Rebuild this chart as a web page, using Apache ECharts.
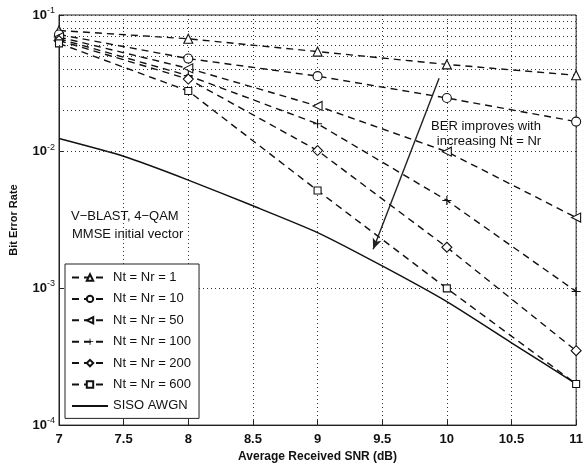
<!DOCTYPE html>
<html><head><meta charset="utf-8">
<script src="https://cdn.jsdelivr.net/npm/echarts@6/dist/echarts.min.js"></script>
<style>html,body{margin:0;padding:0;background:#fff}#c{width:586px;height:468px}</style>
</head><body><div id="c"></div>
<script>
const snr = [7, 8, 9, 10, 11];
const nt1 = [0.077, 0.067, 0.054, 0.0435, 0.0362];
const nt10 = [0.072, 0.048, 0.0357, 0.0247, 0.0166];
const nt50 = [0.069, 0.0407, 0.0216, 0.0100, 0.0033];
const nt100 = [0.067, 0.036, 0.016, 0.0044, 0.00095];
const nt200 = [0.065, 0.034, 0.0102, 0.0020, 0.00035];
const nt600 = [0.062, 0.0278, 0.0052, 0.0010, 0.00020];
const sisoSnr = [7, 7.5, 8, 8.5, 9, 9.5, 10, 10.5, 11];
const siso = [0.01247, 0.00925, 0.0062, 0.00402, 0.00256, 0.00146, 0.00080, 0.00040, 0.00020];
const names = ['Nt = Nr = 1','Nt = Nr = 10','Nt = Nr = 50','Nt = Nr = 100','Nt = Nr = 200','Nt = Nr = 600','SISO AWGN'];
const arrowFrom = [9.94, 0.0344];
const arrowTo = [9.43, 0.00193];
const yMinor = [];
for (let k = -4; k <= -2; k++) for (let m = 2; m <= 9; m++) yMinor.push(m * Math.pow(10, k));

const font = 'Liberation Sans, Arial, sans-serif';
const pairs = (xs, ys) => xs.map((x, i) => [x, ys[i]]);
const symbols = [
  'triangle', 'circle', 'path://M0,5 L10,0 L10,10 Z',
  'path://M4.4,0 h1.2 v4.4 h4.4 v1.2 h-4.4 v4.4 h-1.2 v-4.4 h-4.4 v-1.2 h4.4 Z',
  'diamond', 'rect'
];
const sizes = [9, 9, 9, 9, 10, 7];
const dataSets = [nt1, nt10, nt50, nt100, nt200, nt600];
const series = dataSets.map((d, i) => ({
  name: names[i], type: 'line', data: pairs(snr, d),
  symbol: symbols[i], symbolSize: sizes[i],
  lineStyle: { color: '#111', width: 1.4, type: [7, 5] },
  itemStyle: i === 3 ? { color: '#111', borderWidth: 0 } : { color: '#fff', borderColor: '#111', borderWidth: 1.1 },
  z: 3
}));
series.push({
  name: names[6], type: 'line', data: pairs(sisoSnr, siso), symbol: 'none', smooth: 0.2,
  lineStyle: { color: '#111', width: 1.5, type: 'solid' }, itemStyle: { color: '#111' }, z: 3,
  markLine: {
    silent: true, symbol: ['none', 'arrow'], symbolSize: [7, 11], animation: false,
    label: { show: false },
    lineStyle: { color: '#222', width: 1.4, type: 'solid' },
    data: [[{ coord: arrowFrom }, { coord: arrowTo }]]
  }
});
series.push({
  type: 'line', data: [], silent: true,
  markLine: {
    silent: true, symbol: 'none', animation: false, label: { show: false },
    lineStyle: { color: '#333', width: 1, type: [1, 3] },
    data: yMinor.map(v => ({ yAxis: v }))
  }
});

const legendData = names.map((n, i) => i === 6 ? { name: n, itemStyle: { opacity: 0 } } : { name: n });

const chart = echarts.init(document.getElementById('c'));
chart.setOption({
  animation: false,
  backgroundColor: '#fff',
  grid: { left: 57, right: 4, top: 15, bottom: 39, show: true, borderColor: '#222', borderWidth: 1 },
  xAxis: {
    type: 'value', min: 7, max: 11, interval: 0.5,
    name: 'Average Received SNR (dB)', nameLocation: 'middle', nameGap: 22,
    nameTextStyle: { fontFamily: font, fontSize: 12, color: '#111', fontWeight: 'bold' },
    axisLine: { lineStyle: { color: '#222' } },
    axisTick: { inside: true, length: 5, lineStyle: { color: '#222' } },
    axisLabel: { fontFamily: font, fontSize: 13, color: '#111', margin: 8, fontWeight: 'bold' },
    splitLine: { show: true, lineStyle: { color: '#333', type: [1, 3] } }
  },
  yAxis: {
    type: 'log', logBase: 10, min: 1e-4, max: 1e-1,
    name: 'Bit Error Rate', nameLocation: 'middle', nameGap: 40,
    nameTextStyle: { fontFamily: font, fontSize: 11, color: '#111', fontWeight: 'bold' },
    axisLine: { lineStyle: { color: '#222' } },
    axisTick: { inside: true, length: 5, lineStyle: { color: '#222' } },
    axisLabel: {
      fontFamily: font, color: '#111', margin: 4,
      formatter: v => '{b|10}{s|' + Math.round(Math.log10(v)) + '}',
      rich: {
        b: { fontFamily: font, fontSize: 13, color: '#111', fontWeight: 'bold' },
        s: { fontFamily: font, fontSize: 9, color: '#111', padding: [0, 0, 9, 0] }
      }
    },
    splitLine: { show: true, lineStyle: { color: '#333', type: [1, 3] } }
  },
  legend: {
    orient: 'vertical', left: 65, top: 264, data: legendData,
    backgroundColor: '#fff', borderColor: '#222', borderWidth: 1,
    padding: [7, 8, 6, 6], itemWidth: 36, itemHeight: 8, itemGap: 8.4,
    textStyle: { fontFamily: font, fontSize: 13, color: '#111' }
  },
  graphic: [
    { type: 'text', left: 71, top: 210, style: { text: 'V\u2212BLAST, 4\u2212QAM', fontFamily: font, fontSize: 13, fill: '#111' } },
    { type: 'text', left: 72, top: 228, style: { text: 'MMSE initial vector', fontFamily: font, fontSize: 13, fill: '#111' } },
    { type: 'text', x: 486, y: 120, style: { text: 'BER improves with', textAlign: 'center', fontFamily: font, fontSize: 13, fill: '#111' } },
    { type: 'text', x: 489, y: 135, style: { text: 'increasing Nt = Nr', textAlign: 'center', fontFamily: font, fontSize: 13, fill: '#111' } }
  ],
  series: series
});
</script></body></html>
